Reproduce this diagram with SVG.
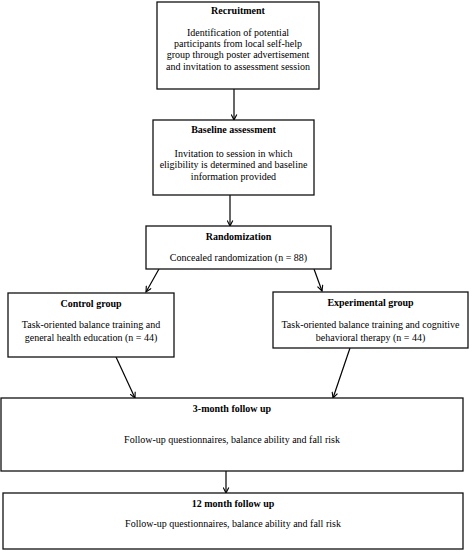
<svg xmlns="http://www.w3.org/2000/svg" width="473" height="551" viewBox="0 0 473 551">
<style>
.box{fill:#fff;stroke:#111;stroke-width:1.3}
.t{font-family:"Liberation Serif","Times New Roman",serif;font-size:10px;text-anchor:middle;fill:#000}
.b{font-weight:bold}
.c{stroke:#000;stroke-width:1.2;fill:none;marker-end:url(#ah)}
</style>
<defs>
<marker id="ah" viewBox="0 0 10 10" refX="9" refY="5" markerWidth="7" markerHeight="7" markerUnits="userSpaceOnUse" orient="auto">
<path d="M1,1 L9,5 L1,9" fill="none" stroke="#000" stroke-width="1.6"/>
</marker>
</defs>
<rect width="473" height="551" fill="#fff"/>
<g id="connectors">
<line class="c" x1="234" y1="89" x2="234" y2="120"/>
<line class="c" x1="230" y1="195" x2="230" y2="226"/>
<line class="c" x1="159" y1="269" x2="146" y2="292"/>
<line class="c" x1="314" y1="269" x2="322" y2="291"/>
<line class="c" x1="116" y1="357" x2="135" y2="398"/>
<line class="c" x1="350" y1="348" x2="333" y2="398"/>
<line class="c" x1="226" y1="471" x2="226" y2="493"/>
</g>
<g id="recruitment">
<rect class="box" x="157" y="2" width="162" height="87"/>
<text class="t b" x="238" y="13.5">Recruitment</text>
<text class="t" x="238" y="35.5">Identification of potential</text>
<text class="t" x="238" y="46.5">participants from local self-help</text>
<text class="t" x="238" y="58">group through poster advertisement</text>
<text class="t" x="238" y="69.5">and invitation to assessment session</text>
</g>
<g id="baseline">
<rect class="box" x="153" y="120" width="161" height="75"/>
<text class="t b" x="233.5" y="132.5">Baseline assessment</text>
<text class="t" x="233.5" y="156.5">Invitation to session in which</text>
<text class="t" x="233.5" y="168">eligibility is determined and baseline</text>
<text class="t" x="233.5" y="179.5">information provided</text>
</g>
<g id="randomization">
<rect class="box" x="146" y="226" width="185" height="43"/>
<text class="t b" x="238.5" y="239.5">Randomization</text>
<text class="t" x="238.5" y="260.5">Concealed randomization (n = 88)</text>
</g>
<g id="control">
<rect class="box" x="8" y="293" width="166" height="64"/>
<text class="t b" x="91" y="306.5">Control group</text>
<text class="t" x="91" y="328">Task-oriented balance training and</text>
<text class="t" x="91" y="341">general health education (n = 44)</text>
</g>
<g id="experimental">
<rect class="box" x="273" y="292" width="195" height="56"/>
<text class="t b" x="370.5" y="305.5">Experimental group</text>
<text class="t" x="370.5" y="328">Task-oriented balance training and cognitive</text>
<text class="t" x="370.5" y="341">behavioral therapy (n = 44)</text>
</g>
<g id="followup3">
<rect class="box" x="1" y="398" width="462" height="73"/>
<text class="t b" x="232" y="411.5">3-month follow up</text>
<text class="t" x="232" y="442.5">Follow-up questionnaires, balance ability and fall risk</text>
</g>
<g id="followup12">
<rect class="box" x="3" y="493" width="460" height="56"/>
<text class="t b" x="233" y="506.5">12 month follow up</text>
<text class="t" x="233" y="526.5">Follow-up questionnaires, balance ability and fall risk</text>
</g>
</svg>
